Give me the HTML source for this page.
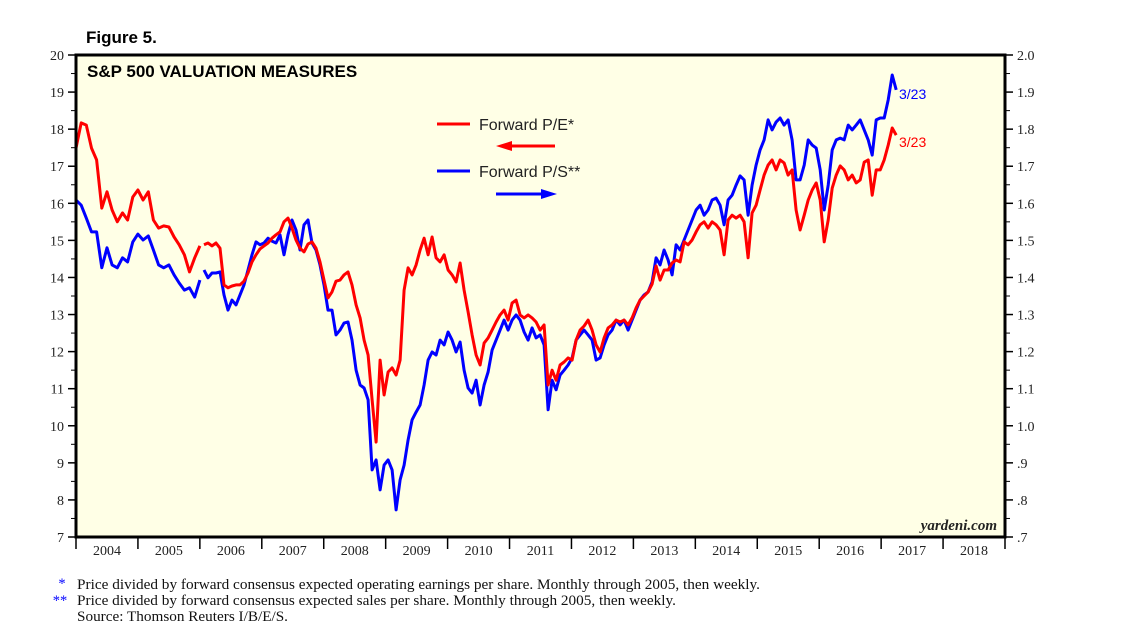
<!DOCTYPE html>
<html><head><meta charset="utf-8"><style>
body{margin:0;background:#fff;}
svg{display:block;}
text{font-family:"Liberation Serif",serif;}
.sans{font-family:"Liberation Sans",sans-serif;}
</style></head><body>
<svg id="chart" width="1138" height="642" viewBox="0 0 1138 642" xmlns="http://www.w3.org/2000/svg">
<text class="sans" x="86" y="43" font-size="17" font-weight="bold">Figure 5.</text>
<rect x="76" y="55" width="929" height="482" fill="#FFFFE6"/>
<g id="axes"></g>
<g id="series"></g>
<rect x="76" y="55" width="929" height="482" fill="none" stroke="#000" stroke-width="3"/>
<text class="sans" x="87" y="77" font-size="17" font-weight="bold">S&amp;P 500 VALUATION MEASURES</text>
<g>
<line x1="437" y1="124" x2="470" y2="124" stroke="#f00" stroke-width="3"/>
<text class="sans" x="479" y="130" font-size="16" fill="#222">Forward P/E*</text>
<g><line x1="508" y1="146" x2="555" y2="146" stroke="#f00" stroke-width="3"/><polygon points="496,146 512,141 512,151" fill="#f00"/></g>
<line x1="437" y1="171" x2="470" y2="171" stroke="#00f" stroke-width="3"/>
<text class="sans" x="479" y="177" font-size="16" fill="#222">Forward P/S**</text>
<g><line x1="496" y1="194" x2="543" y2="194" stroke="#00f" stroke-width="3"/><polygon points="557,194 541,189 541,199" fill="#00f"/></g>
</g>
<text class="sans" x="899" y="99" font-size="14" fill="#00f">3/23</text>
<text class="sans" x="899" y="147" font-size="14" fill="#f00">3/23</text>
<text x="997" y="530" font-size="15" font-style="italic" font-weight="bold" text-anchor="end" fill="#222">yardeni.com</text>
<g font-size="14.5" fill="#111">
<text x="62" y="588" text-anchor="middle" fill="#00f">*</text>
<text x="77" y="589" textLength="683" lengthAdjust="spacingAndGlyphs">Price divided by forward consensus expected operating earnings per share. Monthly through 2005, then weekly.</text>
<text x="60" y="605" text-anchor="middle" fill="#00f">**</text>
<text x="77" y="605" textLength="599" lengthAdjust="spacingAndGlyphs">Price divided by forward consensus expected sales per share. Monthly through 2005, then weekly.</text>
<text x="77" y="621" textLength="211" lengthAdjust="spacingAndGlyphs">Source: Thomson Reuters I/B/E/S.</text>
</g>
</svg>
<script>
const years = [2004,2005,2006,2007,2008,2009,2010,2011,2012,2013,2014,2015,2016,2017,2018];
const leftTicks = [7,8,9,10,11,12,13,14,15,16,17,18,19,20];
const rightTickLabels = [".7",".8",".9","1.0","1.1","1.2","1.3","1.4","1.5","1.6","1.7","1.8","1.9","2.0"];
const monthlyStart = 2004.0;
const monthlyStep = 1/12;
const weeklyStart = 2006.067;
const weeklyStep = 0.0646;
const peMonthly = [17.49,18.17,18.11,17.49,17.17,15.87,16.31,15.82,15.50,15.74,15.55,16.17,16.36,16.09,16.31,15.55,15.33,15.39,15.36,15.09,14.88,14.61,14.15,14.53,14.85];
const psMonthly = [1.609,1.595,1.560,1.523,1.523,1.426,1.480,1.434,1.426,1.453,1.442,1.496,1.517,1.501,1.512,1.474,1.434,1.426,1.434,1.407,1.385,1.366,1.372,1.347,1.393];
const peWeekly = [14.88,14.93,14.85,14.93,14.79,13.80,13.72,13.77,13.80,13.80,
13.90,14.12,14.42,14.61,14.77,14.85,14.93,15.06,15.15,15.23,
15.50,15.60,15.33,15.01,14.79,14.69,14.90,14.96,14.79,14.42,
13.93,13.45,13.61,13.90,13.93,14.07,14.15,13.80,13.26,12.91,
12.31,11.91,10.70,9.56,11.77,10.83,11.45,11.56,11.37,11.77,
13.66,14.26,14.07,14.34,14.74,15.06,14.61,15.09,14.53,14.42,
14.61,14.20,14.07,13.88,14.39,13.66,13.07,12.45,11.91,11.64,
12.23,12.37,12.58,12.80,12.99,13.12,12.85,13.31,13.39,12.99,
12.91,12.99,12.91,12.80,12.58,12.72,11.10,11.50,11.23,11.64,
11.72,11.83,11.77,12.31,12.58,12.69,12.85,12.58,12.18,11.99,
12.37,12.64,12.72,12.85,12.80,12.85,12.72,12.91,13.18,13.39,
13.50,13.61,13.82,14.31,13.93,14.20,14.20,14.39,14.47,14.42,
14.96,14.88,15.01,15.23,15.42,15.50,15.33,15.50,15.42,15.28,
14.61,15.55,15.68,15.60,15.68,15.50,14.53,15.74,15.95,16.36,
16.76,17.03,17.17,16.90,17.17,17.09,16.76,16.90,15.82,15.28,
15.68,16.09,16.36,16.55,16.09,14.96,15.55,16.41,16.76,17.01,
16.90,16.63,16.76,16.55,16.63,17.11,17.17,16.22,16.90,16.90,
17.17,17.57,18.03,17.84];
const psWeekly = [1.420,1.399,1.412,1.412,1.415,1.353,1.312,1.339,1.326,1.353,
1.380,1.420,1.461,1.496,1.488,1.493,1.506,1.498,1.493,1.515,
1.461,1.515,1.555,1.528,1.474,1.542,1.555,1.493,1.474,1.434,
1.380,1.312,1.312,1.245,1.258,1.277,1.280,1.231,1.150,1.110,
1.102,1.070,0.881,0.908,0.827,0.894,0.908,0.881,0.773,0.854,
0.894,0.962,1.016,1.037,1.056,1.110,1.177,1.199,1.191,1.231,
1.218,1.253,1.231,1.199,1.226,1.150,1.102,1.088,1.123,1.056,
1.110,1.145,1.204,1.231,1.258,1.285,1.258,1.285,1.299,1.285,
1.253,1.231,1.264,1.237,1.245,1.218,1.043,1.123,1.097,1.137,
1.150,1.164,1.183,1.231,1.245,1.258,1.245,1.231,1.177,1.183,
1.218,1.245,1.258,1.285,1.272,1.285,1.258,1.285,1.312,1.339,
1.353,1.361,1.388,1.453,1.434,1.474,1.447,1.407,1.488,1.474,
1.501,1.528,1.555,1.582,1.595,1.568,1.582,1.609,1.614,1.595,
1.542,1.609,1.622,1.649,1.674,1.663,1.568,1.649,1.703,1.744,
1.771,1.825,1.798,1.819,1.830,1.811,1.825,1.771,1.663,1.663,
1.703,1.771,1.757,1.749,1.690,1.582,1.649,1.744,1.771,1.776,
1.771,1.811,1.798,1.811,1.825,1.798,1.771,1.730,1.825,1.830,
1.830,1.879,1.946,1.906];

const NS = "http://www.w3.org/2000/svg";
const L = 76, R = 1005, T = 55, B = 537;
const xScale = t => L + (t - 2004) / 15 * (R - L);
const yLeft = v => T + (20 - v) / 13 * (B - T);
const yRight = v => T + (2.0 - v) / 1.3 * (B - T);
function mk(tag, attrs, parent) {
  const e = document.createElementNS(NS, tag);
  for (const k in attrs) e.setAttribute(k, attrs[k]);
  parent.appendChild(e);
  return e;
}
const axes = document.getElementById('axes');
leftTicks.forEach((v, i) => {
  const y = yLeft(v);
  const tk = mk('line', {x1: L - 8, x2: L, y1: y, y2: y, stroke: '#000', 'stroke-width': 1.5}, axes);
  
  
  const lb = mk('text', {x: L - 12, y: y + 5, 'text-anchor': 'end', 'font-size': 14, fill: '#222'}, axes);
  lb.textContent = v;
  
  
  const ry = yRight(v / 10);
  const rt = mk('line', {x1: R, x2: R + 8, y1: ry, y2: ry, stroke: '#000', 'stroke-width': 1.5}, axes);
  
  
  const rl = mk('text', {x: R + 12, y: ry + 5, 'font-size': 14, fill: '#222'}, axes);
  rl.textContent = rightTickLabels[i];
  
  
  if (i < leftTicks.length - 1) {
    const my = yLeft(v + 0.5);
    const m1 = mk('line', {x1: L - 5, x2: L, y1: my, y2: my, stroke: '#000', 'stroke-width': 1}, axes);
    
    
    const m2 = mk('line', {x1: R, x2: R + 5, y1: my, y2: my, stroke: '#000', 'stroke-width': 1}, axes);
    
    
  }
});
years.concat([2019]).forEach(yr => {
  const x = xScale(yr);
  const t = mk('line', {x1: x, x2: x, y1: B, y2: B + 12, stroke: '#000', 'stroke-width': 1.5}, axes);
  
  
});
years.forEach(yr => {
  const lb = mk('text', {x: xScale(yr + 0.5), y: B + 18, 'text-anchor': 'middle', 'font-size': 14, fill: '#222'}, axes);
  lb.textContent = yr;
  
  
});
const series = document.getElementById('series');
function drawLine(vals, start, step, yf, color, name) {
  const d = vals.map((v, i) => (i ? 'L' : 'M') + xScale(start + i * step).toFixed(1) + ',' + yf(v).toFixed(1)).join('');
  const p = mk('path', {d: d, fill: 'none', stroke: color, 'stroke-width': 3, 'stroke-linejoin': 'round'}, series);
  
  
}
drawLine(psMonthly, monthlyStart, monthlyStep, yRight, '#0000ff', 'ps-line-monthly');
drawLine(psWeekly, weeklyStart, weeklyStep, yRight, '#0000ff', 'ps-line-weekly');
drawLine(peMonthly, monthlyStart, monthlyStep, yLeft, '#ff0000', 'pe-line-monthly');
drawLine(peWeekly, weeklyStart, weeklyStep, yLeft, '#ff0000', 'pe-line-weekly');
</script>
</body></html>
